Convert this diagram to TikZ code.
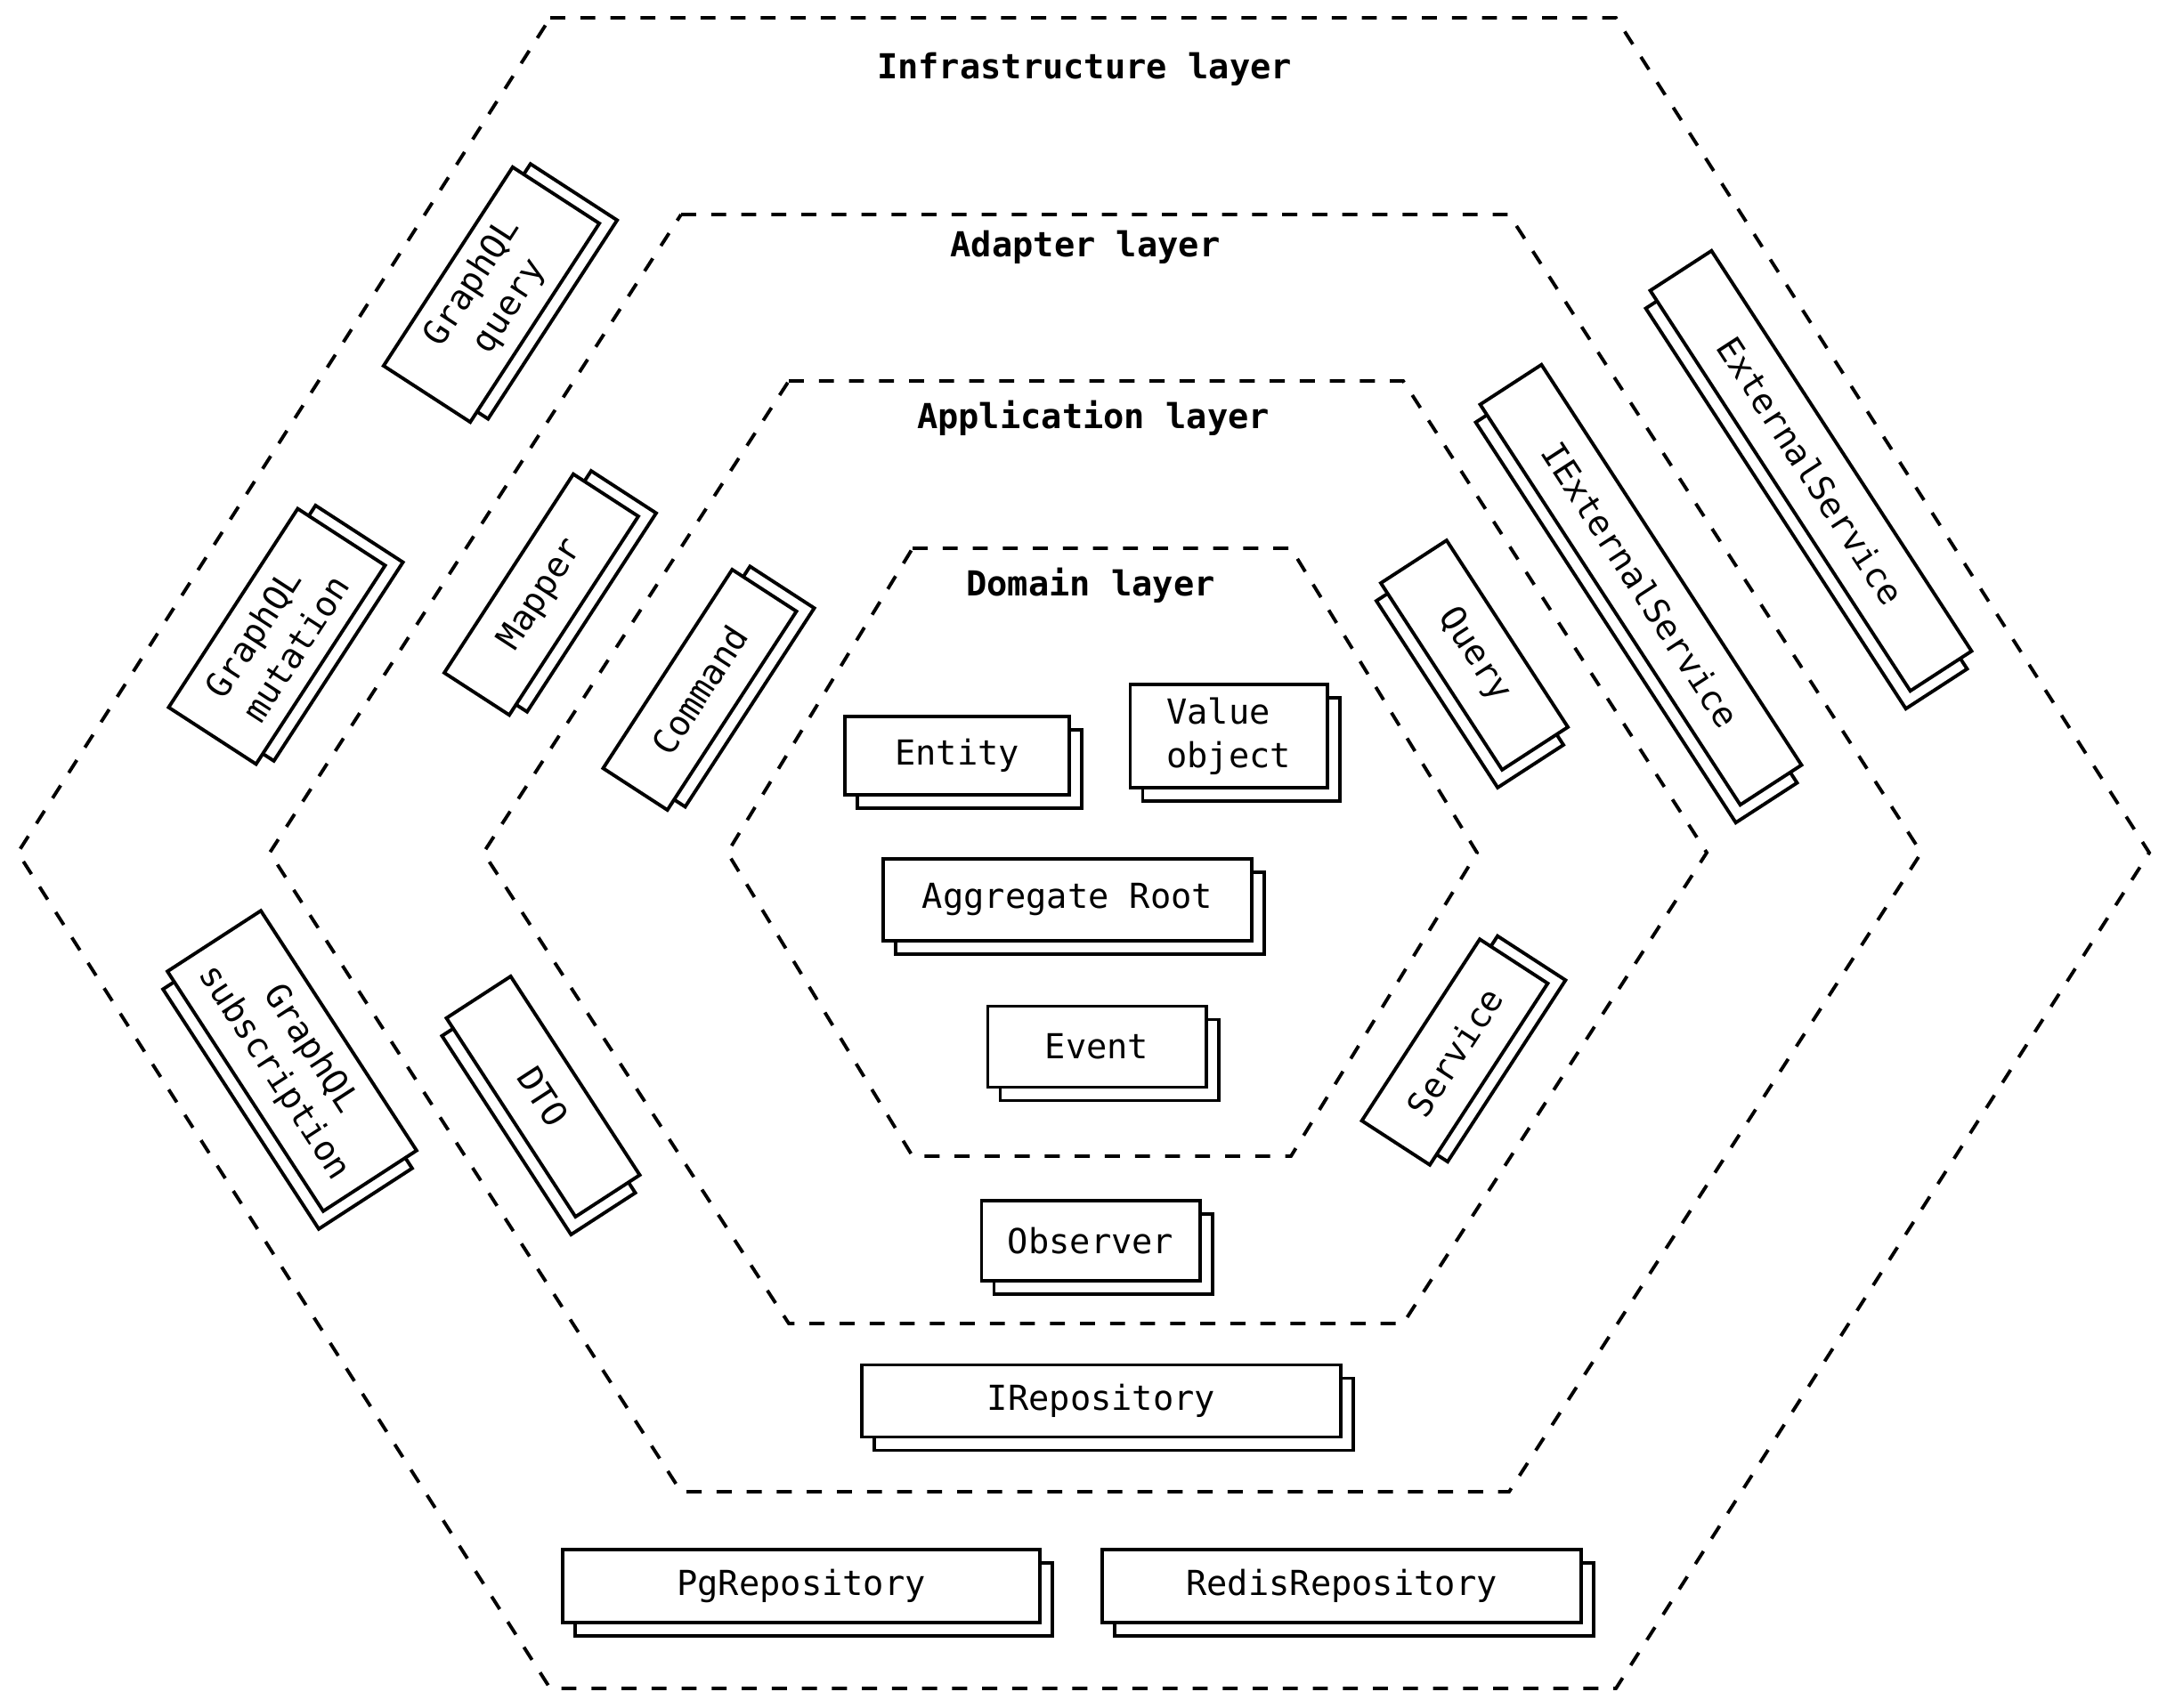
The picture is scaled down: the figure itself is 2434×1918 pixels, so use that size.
\documentclass[tikz,border=0pt]{standalone}
\usepackage{fontspec}
\setmonofont{DejaVu Sans Mono}
\usetikzlibrary{shadows}

\tikzset{
  layer/.style={line width=1.1pt, dash pattern=on 4.8pt off 4.8pt},
  layertitle/.style={font=\ttfamily\bfseries\fontsize{11}{14}\selectfont},
  part/.style={draw, fill=white, line width=1.1pt, inner sep=0pt, align=center,
    font=\ttfamily\fontsize{11}{14}\selectfont},
  flat/.style={copy shadow={shadow xshift=0.14cm, shadow yshift=-0.15cm}},
  % shadow turned with the box
  tiltup/.style={rotate=57, copy shadow={shadow xshift=0.20cm, shadow yshift=0.036cm}},
  tiltdown/.style={rotate=-57, copy shadow={shadow xshift=-0.05cm, shadow yshift=-0.20cm}},
}

\begin{document}
\begin{tikzpicture}[x=0.01cm, y=-0.01cm]
    \useasboundingbox (0,0) rectangle (2434,1918);

    % Layers (hexagons)
    \draw[layer] (618,20) -- (1815,20) -- (2414,958) -- (1815,1897) -- (618,1897) -- (20,958) -- cycle;
    \draw[layer] (765,241) -- (1695,241) -- (2158,958) -- (1695,1676) -- (765,1676) -- (303,958) -- cycle;
    \draw[layer] (886,428) -- (1576,428) -- (1917,958) -- (1576,1487) -- (886,1487) -- (543,958) -- cycle;
    \draw[layer] (1025,616) -- (1450,616) -- (1659,958) -- (1450,1299) -- (1025,1299) -- (817,958) -- cycle;

    \node[layertitle] (infratitle) at (1218,78) {Infrastructure layer};
    \node[layertitle] (adaptertitle) at (1219,278) {Adapter layer};
    \node[layertitle] (apptitle) at (1228,470) {Application layer};
    \node[layertitle] (domaintitle) at (1225,658) {Domain layer};

    % Domain layer
    \node[part, flat, minimum width=2.52cm, minimum height=0.88cm] (entity) at (1075,849) {Entity};
    \node[part, flat, align=left, minimum width=2.21cm, minimum height=1.16cm] (valueobj) at (1380,827) {Value\\object};
    \node[part, flat, minimum width=4.13cm, minimum height=0.92cm] (aggroot) at (1199,1011) {Aggregate Root};
    \node[part, flat, minimum width=2.45cm, minimum height=0.91cm] (event) at (1232,1176) {Event};

    % Application layer
    \node[part, tiltup, minimum width=2.66cm, minimum height=0.86cm] (command) at (786,775) {Command};
    \node[part, tiltdown, minimum width=2.50cm, minimum height=0.88cm] (query) at (1656,736) {Query};
    \node[part, tiltup, minimum width=2.43cm, minimum height=0.91cm] (service) at (1634,1182) {Service};
    \node[part, flat, minimum width=2.45cm, minimum height=0.90cm] (observer) at (1225,1394) {Observer};

    % Adapter layer
    \node[part, tiltup, minimum width=2.66cm, minimum height=0.87cm] (mapper) at (608,668) {Mapper};
    \node[part, tiltdown, minimum width=2.66cm, minimum height=0.86cm] (dto) at (610,1232) {DTO};
    \node[part, tiltdown, minimum width=5.36cm, minimum height=0.82cm] (iextservice) at (1843,657) {IExternalService};
    \node[part, flat, minimum width=5.37cm, minimum height=0.81cm] (irepo) at (1237,1574) {IRepository};

    % Infrastructure layer
    \node[part, tiltup, minimum width=2.66cm, minimum height=1.16cm] (gqlquery) at (552,331) {GraphQL\\query};
    \node[part, tiltup, align=left, minimum width=2.66cm, minimum height=1.17cm] (gqlmutation) at (311,715) {GraphQL\\mutation};
    \node[part, tiltdown, minimum width=3.21cm, minimum height=1.25cm] (gqlsub) at (328,1192) {GraphQL\\subscription};
    \node[part, tiltdown, minimum width=5.36cm, minimum height=0.82cm] (extservice) at (2034,529) {ExternalService};
    \node[part, flat, minimum width=5.36cm, minimum height=0.82cm] (pgrepo) at (900,1782) {PgRepository};
    \node[part, flat, minimum width=5.37cm, minimum height=0.82cm] (redisrepo) at (1507,1782) {RedisRepository};
\end{tikzpicture}
\end{document}
